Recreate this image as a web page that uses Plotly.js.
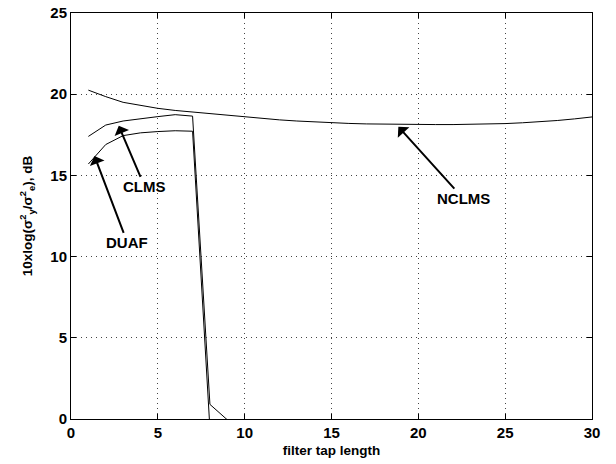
<!DOCTYPE html>
<html>
<head>
<meta charset="utf-8">
<script src="https://cdn.plot.ly/plotly-3.0.1.min.js"></script>
<style>html,body{margin:0;padding:0;background:#fff;}#chart{width:616px;height:464px;}</style>
</head>
<body>
<div id="chart"></div>
<script>
// filter tap lengths
const tapsNCLMS = [1,2,3,4,5,6,7,8,9,10,11,12,13,14,15,16,17,18,19,20,21,22,23,24,25,26,27,28,29,30];
const nclms = [20.25,19.85,19.5,19.3,19.13,19.0,18.9,18.8,18.7,18.58,18.5,18.42,18.35,18.29,18.24,18.2,18.17,18.15,18.14,18.13,18.13,18.13,18.14,18.16,18.19,18.24,18.3,18.38,18.48,18.6];
const tapsShort = [1,2,3,4,5,6,7,8,9];
const clms = [17.4,18.1,18.35,18.5,18.62,18.74,18.65,0.9,-0.05];
const duaf = [15.7,16.9,17.45,17.62,17.7,17.75,17.72,-0.6,-2];
const xTicks = [0,5,10,15,20,25,30];
const yTicks = [0,5,10,15,20,25];
const labels = ['CLMS','DUAF','NCLMS'];

const lineStyle = {color:'#000', width:1};
const traces = [
  {x: tapsNCLMS, y: nclms, mode:'lines', line: lineStyle, name: labels[2]},
  {x: tapsShort, y: clms, mode:'lines', line: lineStyle, name: labels[0]},
  {x: tapsShort, y: duaf, mode:'lines', line: lineStyle, name: labels[1]}
];

const FAM = '"Liberation Sans", Arial, sans-serif';
const tickFont = {family:FAM, size:15, color:'#000', weight:700};
const titleFont = {family:FAM, size:13.5, color:'#000', weight:700};
const annFont = {family:FAM, size:15, color:'#000', weight:700};

const axisCommon = {
  showline:true, linecolor:'#000', linewidth:1, mirror:'ticks',
  ticks:'inside', ticklen:5, tickcolor:'#000', tickwidth:1,
  showgrid:true, gridcolor:'#444', gridwidth:1, griddash:'1px,4px',
  zeroline:false, tickfont: tickFont, tickmode:'array'
};

const layout = {
  width:616, height:464,
  margin:{l:71, r:24, t:13, b:45},
  paper_bgcolor:'#fff', plot_bgcolor:'#fff',
  showlegend:false,
  xaxis: Object.assign({}, axisCommon, {
    range:[0,30], tickvals:xTicks, ticktext:xTicks.map(String),
    title:{text:'filter tap length', font:titleFont, standoff:5}
  }),
  yaxis: Object.assign({}, axisCommon, {
    range:[0,25], tickvals:yTicks, ticktext:yTicks.map(String),
    title:{text:'10xlog(σ<sup>2</sup><sub>y</sub>/σ<sup>2</sup><sub>e</sub>), dB', font:titleFont, standoff:14}
  }),
  annotations: [
    {x:2.75, y:18.05, ax:26, ay:61, text:labels[0], font:annFont, showarrow:true, arrowhead:1, arrowsize:1.3, arrowwidth:2, arrowcolor:'#000'},
    {x:1.35, y:16.2, ax:33, ay:87, text:labels[1], font:annFont, showarrow:true, arrowhead:1, arrowsize:1.3, arrowwidth:2, arrowcolor:'#000'},
    {x:18.85, y:18.0, ax:65, ay:72, text:labels[2], font:annFont, showarrow:true, arrowhead:1, arrowsize:1.3, arrowwidth:2, arrowcolor:'#000'}
  ]
};

Plotly.newPlot('chart', traces, layout, {displayModeBar:false, staticPlot:true});
</script>
</body>
</html>
